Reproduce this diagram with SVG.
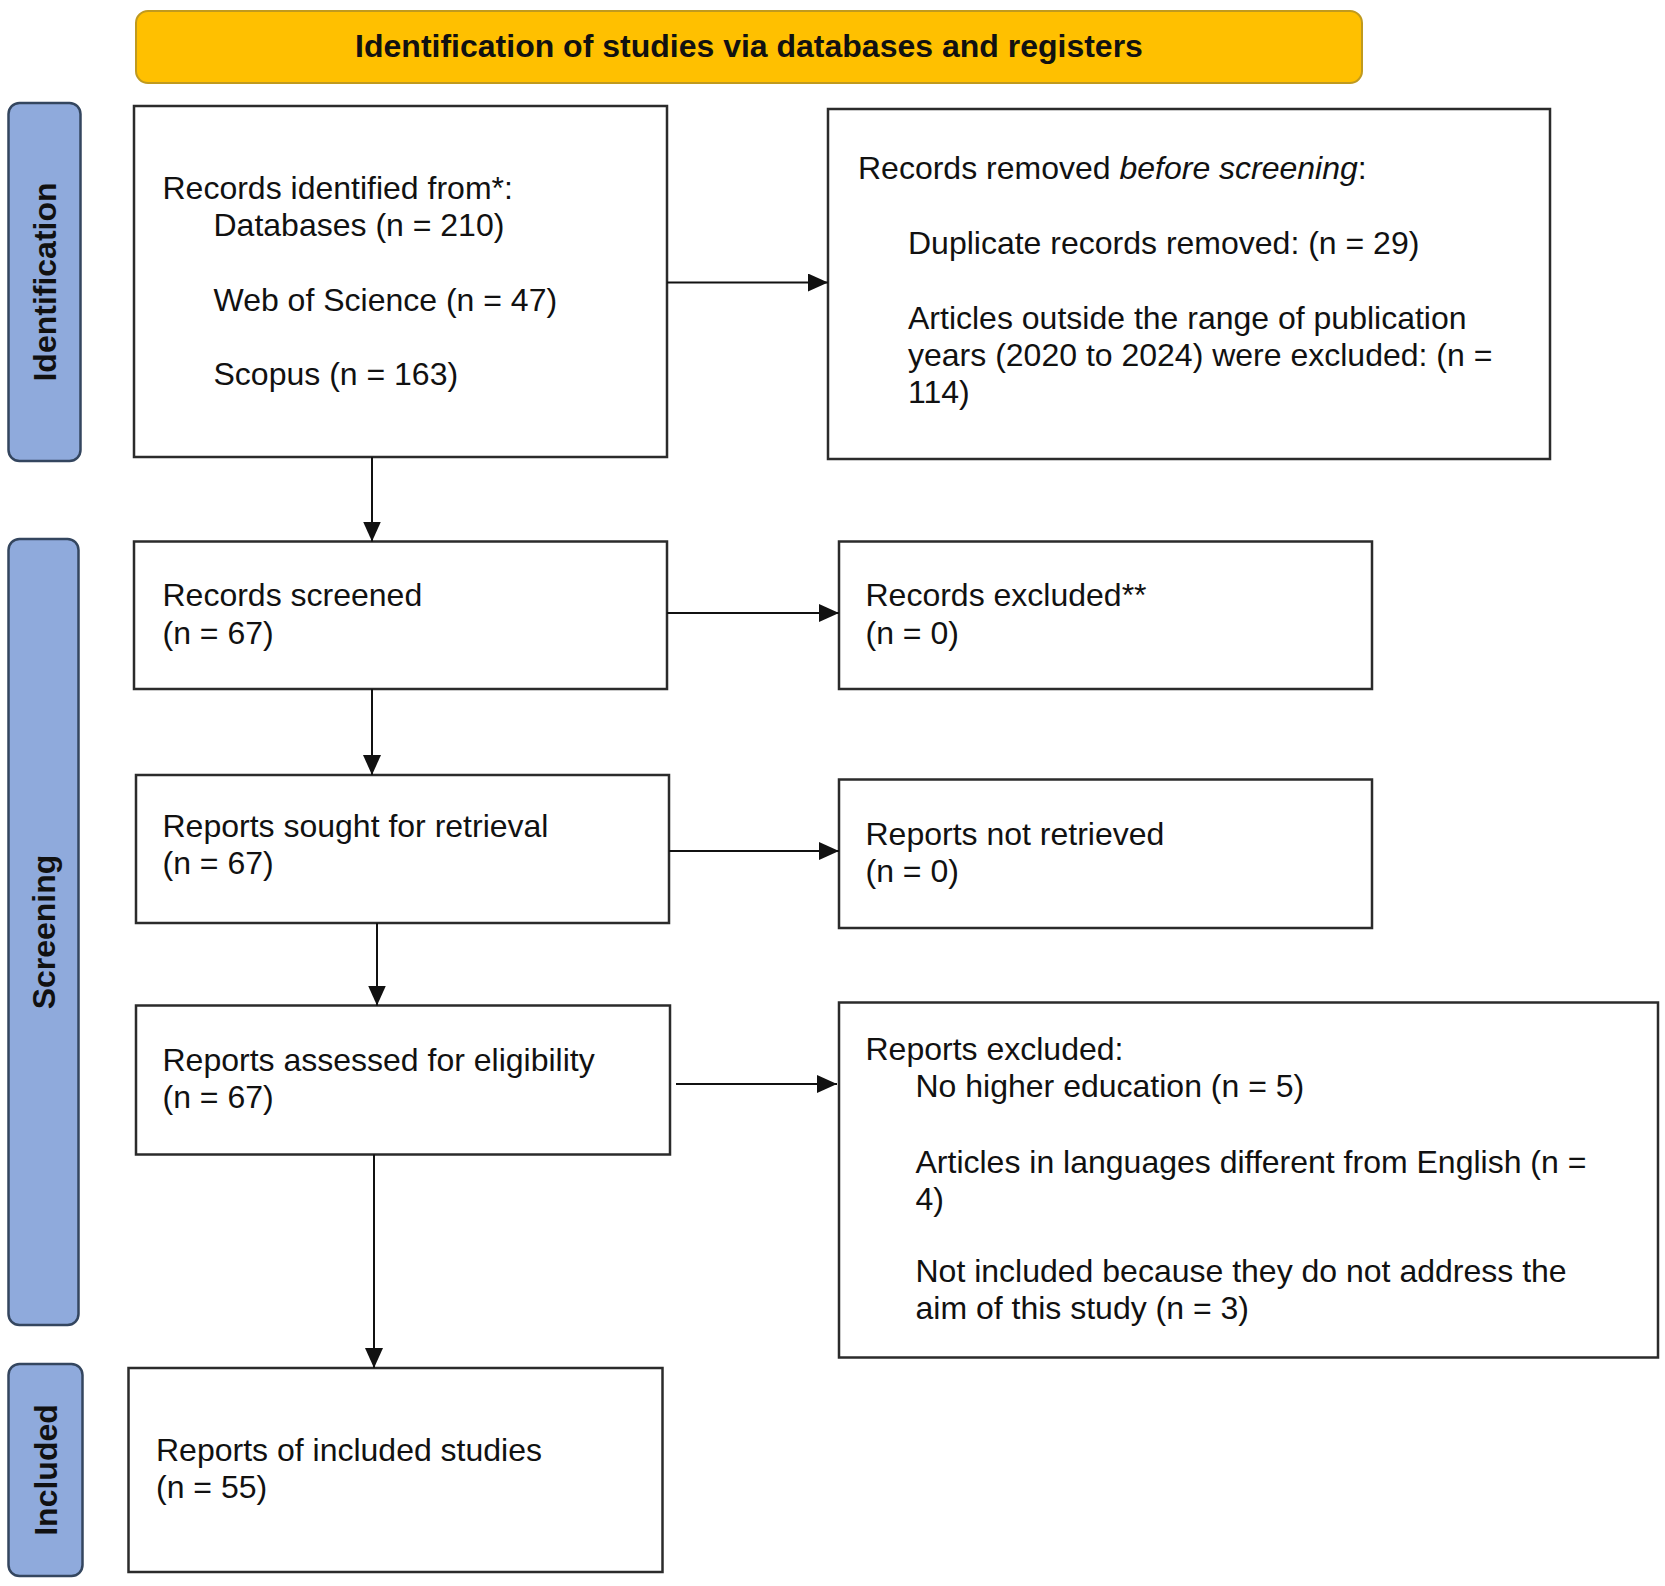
<svg xmlns="http://www.w3.org/2000/svg" width="1665" height="1586" viewBox="0 0 1665 1586">
<style>
  .box { fill: #ffffff; stroke: #2b2b2b; stroke-width: 2.5; }
  .side { fill: #8FAADC; stroke: #34465f; stroke-width: 2.5; }
  .head { fill: #FFC000; stroke: #C09A1E; stroke-width: 2; }
  .t { font-family: "Liberation Sans", Arial, sans-serif; font-size: 32px; fill: #111111; }
  .b { font-family: "Liberation Sans", Arial, sans-serif; font-size: 32px; font-weight: bold; fill: #111111; }
  .c { stroke: #111111; stroke-width: 2; fill: none; }
</style>
<defs>
  <marker id="arr" viewBox="0 0 10 10" refX="10" refY="5" markerWidth="10" markerHeight="10" markerUnits="userSpaceOnUse" orient="auto">
    <path d="M0,0 L10,5 L0,10 Z" fill="#111111"/>
  </marker>
  <marker id="arrow" viewBox="0 0 20 18" refX="20" refY="9" markerWidth="20" markerHeight="18" markerUnits="userSpaceOnUse" orient="auto">
    <path d="M0,0 L20,9 L0,18 Z" fill="#111111"/>
  </marker>
</defs>
<rect width="1665" height="1586" fill="#ffffff"/>

<g id="header">
  <rect class="head" x="136" y="11" width="1226" height="72" rx="12"/>
  <text class="b" x="749" y="57" text-anchor="middle">Identification of studies via databases and registers</text>
</g>

<g id="side-identification">
  <rect class="side" x="8.5" y="103" width="72" height="358" rx="11"/>
  <text class="b" transform="translate(56,282) rotate(-90)" text-anchor="middle">Identification</text>
</g>
<g id="side-screening">
  <rect class="side" x="8.5" y="539" width="70" height="786" rx="11"/>
  <text class="b" transform="translate(55,932) rotate(-90)" text-anchor="middle">Screening</text>
</g>
<g id="side-included">
  <rect class="side" x="8.5" y="1364" width="74" height="212" rx="11"/>
  <text class="b" transform="translate(57,1470) rotate(-90)" text-anchor="middle">Included</text>
</g>

<g id="records-identified">
  <rect class="box" x="134" y="106" width="533" height="351"/>
  <text class="t" x="162.5" y="199">Records identified from*:</text>
  <text class="t" x="213.5" y="236">Databases (n = 210)</text>
  <text class="t" x="213.5" y="311">Web of Science (n = 47)</text>
  <text class="t" x="213.5" y="385">Scopus (n = 163)</text>
</g>

<g id="records-removed">
  <rect class="box" x="828" y="109" width="722" height="350"/>
  <text class="t" x="858" y="179">Records removed <tspan font-style="italic">before screening</tspan>:</text>
  <text class="t" x="908" y="254">Duplicate records removed: (n = 29)</text>
  <text class="t" x="908" y="329">Articles outside the range of publication</text>
  <text class="t" x="908" y="366">years (2020 to 2024) were excluded: (n =</text>
  <text class="t" x="908" y="403">114)</text>
</g>

<g id="records-screened">
  <rect class="box" x="134" y="541.5" width="533" height="147.5"/>
  <text class="t" x="162.5" y="606">Records screened</text>
  <text class="t" x="162.5" y="644">(n = 67)</text>
</g>

<g id="records-excluded">
  <rect class="box" x="839" y="541.5" width="533" height="147.5"/>
  <text class="t" x="865.5" y="606">Records excluded**</text>
  <text class="t" x="865.5" y="644">(n = 0)</text>
</g>

<g id="reports-sought">
  <rect class="box" x="136" y="775" width="533" height="148"/>
  <text class="t" x="162.5" y="837">Reports sought for retrieval</text>
  <text class="t" x="162.5" y="874">(n = 67)</text>
</g>

<g id="reports-not-retrieved">
  <rect class="box" x="839" y="779.5" width="533" height="148.5"/>
  <text class="t" x="865.5" y="845">Reports not retrieved</text>
  <text class="t" x="865.5" y="882">(n = 0)</text>
</g>

<g id="reports-assessed">
  <rect class="box" x="136" y="1005.5" width="534" height="149"/>
  <text class="t" x="162.5" y="1071">Reports assessed for eligibility</text>
  <text class="t" x="162.5" y="1108">(n = 67)</text>
</g>

<g id="reports-excluded">
  <rect class="box" x="839" y="1002.5" width="819" height="355"/>
  <text class="t" x="865.5" y="1060">Reports excluded:</text>
  <text class="t" x="915.5" y="1097">No higher education (n = 5)</text>
  <text class="t" x="915.5" y="1173">Articles in languages different from English (n =</text>
  <text class="t" x="915.5" y="1210">4)</text>
  <text class="t" x="915.5" y="1282">Not included because they do not address the</text>
  <text class="t" x="915.5" y="1319">aim of this study (n = 3)</text>
</g>

<g id="reports-included">
  <rect class="box" x="128.5" y="1368" width="534" height="204"/>
  <text class="t" x="156" y="1461">Reports of included studies</text>
  <text class="t" x="156" y="1498">(n = 55)</text>
</g>

<g id="connectors">
  <line class="c" x1="667" y1="282.5" x2="828" y2="282.5" marker-end="url(#arrow)"/>
  <line class="c" x1="372" y1="457" x2="372" y2="541.5" marker-end="url(#arrow)"/>
  <line class="c" x1="667" y1="613" x2="839" y2="613" marker-end="url(#arrow)"/>
  <line class="c" x1="372" y1="689" x2="372" y2="775" marker-end="url(#arrow)"/>
  <line class="c" x1="669" y1="851" x2="839" y2="851" marker-end="url(#arrow)"/>
  <line class="c" x1="377" y1="923" x2="377" y2="1005.5" marker-end="url(#arrow)"/>
  <line class="c" x1="676" y1="1084" x2="837" y2="1084" marker-end="url(#arrow)"/>
  <line class="c" x1="374" y1="1154.5" x2="374" y2="1368" marker-end="url(#arrow)"/>
</g>
</svg>
